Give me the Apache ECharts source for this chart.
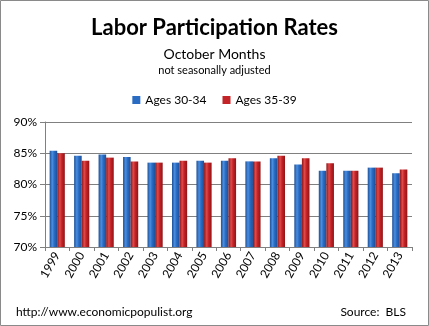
<!DOCTYPE html>
<html><head><meta charset="utf-8">
<script src="https://cdn.jsdelivr.net/npm/echarts@6/dist/echarts.min.js"></script>
<style>html,body{margin:0;padding:0;background:#fff}#c{width:429px;height:326px}</style>
</head><body><div id="c"></div>
<script>
const years = ['1999','2000','2001','2002','2003','2004','2005','2006','2007','2008','2009','2010','2011','2012','2013'];
const ages3034 = [85.4,84.6,84.8,84.4,83.5,83.5,83.8,83.8,83.7,84.2,83.2,82.2,82.2,82.7,81.8];
const ages3539 = [85.0,83.8,84.3,83.7,83.5,83.8,83.5,84.2,83.7,84.6,84.2,83.4,82.2,82.7,82.4];
const yTicks = [70,75,80,85,90];
const FONT = 'Lato, "Open Sans", sans-serif';
function grad(dark, mid, light){
  return new echarts.graphic.LinearGradient(0,0,1,0,[
    {offset:0,color:dark},{offset:0.35,color:light},{offset:0.6,color:mid},{offset:1,color:dark}]);
}
const blue = grad('#1d4f96','#2a6cc4','#4a8ee0');
const red = grad('#8e1416','#c42327','#e04a4a');
const chart = echarts.init(document.getElementById('c'));
chart.setOption({
  animation:false,
  backgroundColor:'#fff',
  textStyle:{fontFamily:FONT},
  graphic:[{type:'rect',shape:{x:0.5,y:0.5,width:428,height:325},style:{fill:'none',stroke:'#8a8a8a',lineWidth:1},silent:true}],
  title:[
    {text:'Labor Participation Rates',left:'center',top:12,textStyle:{fontFamily:FONT,fontSize:22,fontWeight:'bold',color:'#000'}},
    {text:'October Months',left:'center',top:42,textStyle:{fontFamily:FONT,fontSize:14,fontWeight:'normal',color:'#000'}},
    {text:'not seasonally adjusted',left:'center',top:60,textStyle:{fontFamily:FONT,fontSize:11,fontWeight:'normal',color:'#000'}},
    {text:'http://www.economicpopulist.org',left:11,top:301,textStyle:{fontFamily:FONT,fontSize:12,fontWeight:'normal',color:'#000'}},
    {text:'Source:  BLS',right:18,top:301,textStyle:{fontFamily:FONT,fontSize:12,fontWeight:'normal',color:'#000'}}
  ],
  legend:{top:89,left:'center',itemWidth:8,itemHeight:8,itemGap:16,icon:'rect',
    textStyle:{fontFamily:FONT,fontSize:12,color:'#000'},
    data:[{name:'Ages 30-34',itemStyle:{color:'#2a6cc4'}},{name:'Ages 35-39',itemStyle:{color:'#c42327'}}]},
  grid:{left:45,right:17,top:122,bottom:79,containLabel:false},
  xAxis:{type:'category',data:years,
    axisLine:{lineStyle:{color:'#808080'}},
    axisTick:{show:true,length:4,lineStyle:{color:'#808080'}},
    axisLabel:{rotate:60,fontSize:12,color:'#000',margin:6,fontFamily:FONT}},
  yAxis:{type:'value',min:70,max:90,interval:5,
    axisLine:{show:true,lineStyle:{color:'#808080'}},
    axisTick:{show:true,length:5,lineStyle:{color:'#808080'}},
    splitLine:{lineStyle:{color:'#808080'}},
    axisLabel:{fontSize:12,color:'#000',margin:8,fontFamily:FONT,
      formatter:v=>yTicks.includes(v)?v+'%':''}},
  series:[
    {name:'Ages 30-34',type:'bar',data:ages3034,barGap:'0%',barCategoryGap:'38%',itemStyle:{color:blue}},
    {name:'Ages 35-39',type:'bar',data:ages3539,itemStyle:{color:red}}
  ]
});
</script></body></html>
